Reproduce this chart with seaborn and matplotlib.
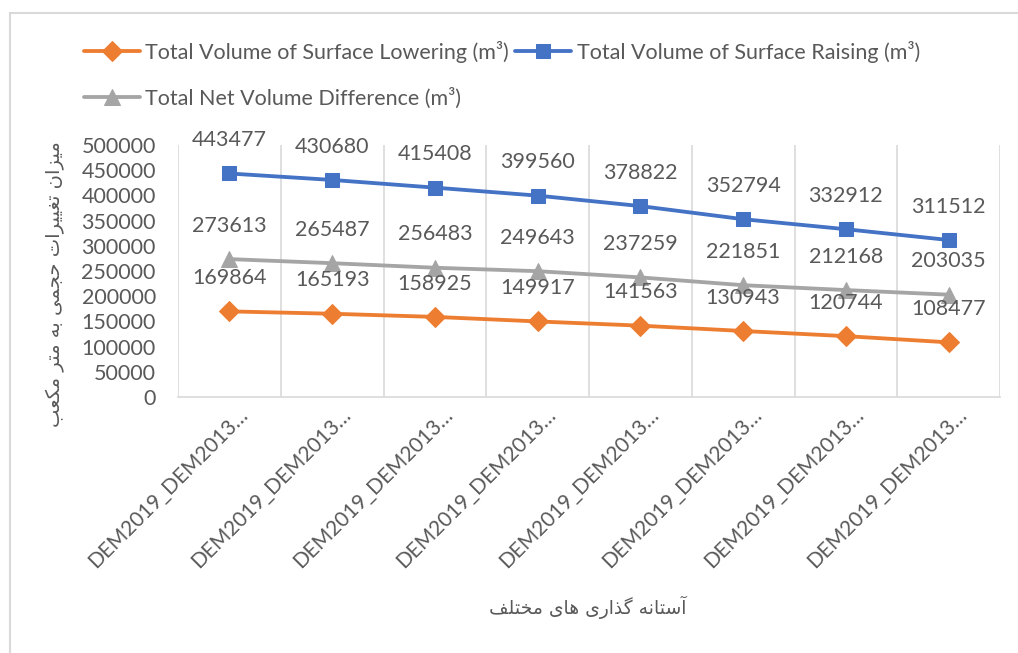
import matplotlib.pyplot as plt
import matplotlib.patches as mpatches
from matplotlib.transforms import ScaledTranslation
import seaborn as sns

# Data
categories = ["DEM2019_DEM2013\u2026"] * 8
lowering = [169864, 165193, 158925, 149917, 141563, 130943, 120744, 108477]
raising = [443477, 430680, 415408, 399560, 378822, 352794, 332912, 311512]
net_diff = [273613, 265487, 256483, 249643, 237259, 221851, 212168, 203035]
series_names = ["Total Volume of Surface Lowering (m³)",
                "Total Volume of Surface Raising (m³)",
                "Total Net Volume Difference (m³)"]
y_label = "میزان تغییرات حجمی به متر مکعب"
x_label = "آستانه گذاری های مختلف"

# Minimal Persian shaping (matplotlib does no shaping / bidi)
FORMS = {  # isolated, final, initial, medial
    'ا': ('\uFE8D', '\uFE8E', None, None),
    'آ': ('\uFE81', '\uFE82', None, None),
    'ب': ('\uFE8F', '\uFE90', '\uFE91', '\uFE92'),
    'ت': ('\uFE95', '\uFE96', '\uFE97', '\uFE98'),
    'ج': ('\uFE9D', '\uFE9E', '\uFE9F', '\uFEA0'),
    'ح': ('\uFEA1', '\uFEA2', '\uFEA3', '\uFEA4'),
    'خ': ('\uFEA5', '\uFEA6', '\uFEA7', '\uFEA8'),
    'ذ': ('\uFEAB', '\uFEAC', None, None),
    'ر': ('\uFEAD', '\uFEAE', None, None),
    'ز': ('\uFEAF', '\uFEB0', None, None),
    'س': ('\uFEB1', '\uFEB2', '\uFEB3', '\uFEB4'),
    'ع': ('\uFEC9', '\uFECA', '\uFECB', '\uFECC'),
    'غ': ('\uFECD', '\uFECE', '\uFECF', '\uFED0'),
    'ف': ('\uFED1', '\uFED2', '\uFED3', '\uFED4'),
    'ک': ('\uFB8E', '\uFB8F', '\uFB90', '\uFB91'),
    'گ': ('\uFB92', '\uFB93', '\uFB94', '\uFB95'),
    'ل': ('\uFEDD', '\uFEDE', '\uFEDF', '\uFEE0'),
    'م': ('\uFEE1', '\uFEE2', '\uFEE3', '\uFEE4'),
    'ن': ('\uFEE5', '\uFEE6', '\uFEE7', '\uFEE8'),
    'ه': ('\uFEE9', '\uFEEA', '\uFEEB', '\uFEEC'),
    'و': ('\uFEED', '\uFEEE', None, None),
    'ی': ('\uFBFC', '\uFBFD', '\uFBFE', '\uFBFF'),
}


def shape_fa(text):
    out = []
    for i, ch in enumerate(text):
        if ch not in FORMS:
            out.append(ch)
            continue
        iso, fin, ini, med = FORMS[ch]
        prev = text[i - 1] if i > 0 else ""
        nxt = text[i + 1] if i + 1 < len(text) else ""
        joins_prev = prev in FORMS and FORMS[prev][2] is not None
        joins_next = nxt in FORMS and ini is not None
        if joins_prev and joins_next:
            out.append(med)
        elif joins_prev:
            out.append(fin)
        elif joins_next:
            out.append(ini)
        else:
            out.append(iso)
    return "".join(out)[::-1]


sns.set_theme(style="white")
plt.rcParams["font.family"] = ["Lato", "DejaVu Sans"]
text_color = "#595959"
grid_color = "#D9D9D9"

fig = plt.figure(figsize=(10.18, 6.53), dpi=100)
ax = fig.add_axes([178 / 1018, 1 - 397 / 653, 822 / 1018, 252 / 653])

x = list(range(len(categories)))
styles = [("#ED7D31", "D", 10), ("#4472C4", "s", 10.5), ("#A5A5A5", "^", 11)]
for values, name, (color, marker, ms) in zip([lowering, raising, net_diff], series_names, styles):
    sns.lineplot(x=x, y=values, ax=ax, color=color, marker=marker, markersize=ms,
                 markeredgecolor=color, linewidth=2.75, label=name)
    for i, v in zip(x, values):
        ax.annotate(str(v), (i, v), xytext=(0, 24), textcoords="offset points",
                    ha="center", va="center", color=text_color, fontsize=15.5)

ax.set_xlim(-0.5, len(categories) - 0.5)
ax.set_ylim(0, 500000)
ax.set_yticks(range(0, 500001, 50000))
ax.tick_params(axis="y", length=0, pad=16, labelsize=15.5, labelcolor=text_color)
ax.set_xticks(x)
ax.set_xticklabels(categories, rotation=45, ha="right", va="center",
                   rotation_mode="anchor", fontsize=15, color=text_color)
ax.tick_params(axis="x", length=0, pad=0)
offset = ScaledTranslation(0.15, -0.14, fig.dpi_scale_trans)
for lbl in ax.get_xticklabels():
    lbl.set_transform(lbl.get_transform() + offset)

ax.set_xticks([i - 0.5 for i in range(len(categories) + 1)], minor=True)
ax.grid(which="minor", axis="x", color=grid_color, linewidth=1.2)
ax.grid(which="major", visible=False)
ax.tick_params(which="minor", length=0)
for side in ["top", "right", "left"]:
    ax.spines[side].set_visible(False)
ax.spines["bottom"].set_color(grid_color)
ax.spines["bottom"].set_linewidth(1.2)
ax.set_xlabel("")
ax.set_ylabel("")

handles, labels = ax.get_legend_handles_labels()
ax.get_legend().remove()
order = [0, 2, 1]
fig.legend([handles[i] for i in order], [labels[i] for i in order],
           loc="upper left", bbox_to_anchor=(73 / 1018, 1 - 30 / 653), ncol=2,
           frameon=False, fontsize=15.5, labelcolor=text_color, handlelength=2.6,
           handletextpad=0.25, columnspacing=0.3, labelspacing=1.15, borderpad=0)

fig.text(55 / 1018, 1 - 284 / 653, shape_fa(y_label), rotation=90, ha="center",
         va="center", fontsize=14, color=text_color, family="DejaVu Sans")
fig.text(588 / 1018, 1 - 607 / 653, shape_fa(x_label), ha="center", va="center",
         fontsize=13.5, color=text_color, family="DejaVu Sans")

fig.patches.append(mpatches.Rectangle((10 / 1018, -0.05), 1.1, 1 - 13 / 653 + 0.05,
                                      transform=fig.transFigure, fill=False,
                                      edgecolor=grid_color, linewidth=1.5))

fig.savefig("out.png", dpi=100)
